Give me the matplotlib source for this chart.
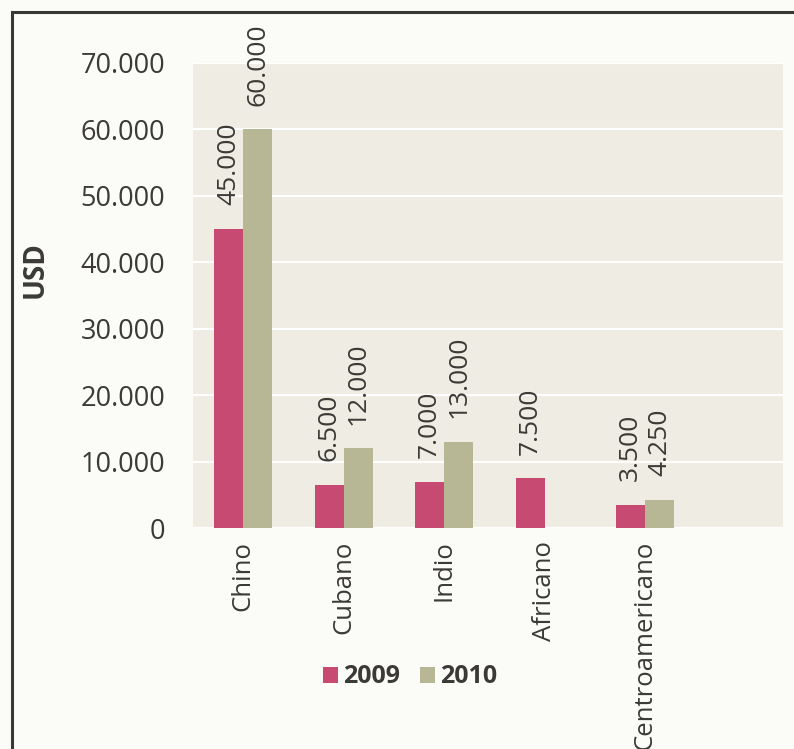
import numpy as np
import matplotlib.pyplot as plt
from matplotlib.patches import Rectangle

categorias = ['Chino', 'Cubano', 'Indio', 'Africano', 'Centroamericano']
valores_2009 = [45000, 6500, 7000, 7500, 3500]
valores_2010 = [60000, 12000, 13000, np.nan, 4250]
anios = ['2009', '2010']

def miles(v):
    return '{:,.0f}'.format(v).replace(',', '.')

def grafico():
    plt.rcParams['font.family'] = ['Open Sans', 'DejaVu Sans']
    fig = plt.figure(figsize=(7.94, 7.49), dpi=100, facecolor='#fbfbf8')
    ax = fig.add_axes([0.243, 0.295, 0.743, 0.621])
    ax.set_facecolor('#efede3')

    x = np.arange(len(categorias))
    w = 0.29
    b1 = ax.bar(x - w/2, valores_2009, w, color='#c64a72', label=anios[0], zorder=3)
    b2 = ax.bar(x + w/2, np.nan_to_num(valores_2010), w, color='#b8b795', label=anios[1], zorder=3)

    for barras, vals in ((b1, valores_2009), (b2, valores_2010)):
        for r, v in zip(barras, vals):
            if np.isnan(v):
                continue
            ax.annotate(miles(v), (r.get_x() + r.get_width()/2, v),
                        xytext=(0, 17), textcoords='offset points',
                        rotation=90, ha='center', va='bottom',
                        fontsize=19, color='#3c3a36', annotation_clip=False)

    ax.set_ylim(0, 70000)
    ax.set_xlim(-0.5, 5.37)
    ax.set_yticks(np.arange(0, 70001, 10000))
    ax.set_yticklabels([miles(v) for v in np.arange(0, 70001, 10000)])
    ax.set_xticks(x)
    ax.set_xticklabels(categorias, rotation=90, va='top', ha='center')
    ax.tick_params(axis='y', length=0, labelsize=19.5, labelcolor='#3c3a36', pad=20)
    ax.tick_params(axis='x', length=0, labelsize=18.5, labelcolor='#3c3a36', pad=9)
    ax.grid(axis='y', color='white', linewidth=1.5, zorder=1)
    for s in ax.spines.values():
        s.set_visible(False)

    fig.text(0.044, 0.64, 'USD', rotation=90, ha='center', va='center',
             fontsize=20, fontweight='bold', color='#3c3a36')

    ax.legend(loc='center', bbox_to_anchor=(0.368, -0.32), ncol=2, frameon=False,
              handlelength=0.6, handleheight=0.6, handletextpad=0.2,
              columnspacing=0.8, prop={'size': 18, 'weight': 'bold'},
              labelcolor='#3c3a36')

    fig.patches.append(Rectangle((12/794, -0.1), 1.2, 1 - 12/749 + 0.1,
                                 transform=fig.transFigure, fill=False,
                                 edgecolor='#3a3836', linewidth=2.2))

    fig.savefig('out.png', dpi=100, facecolor=fig.get_facecolor())

if __name__ == "__main__":
    grafico()
